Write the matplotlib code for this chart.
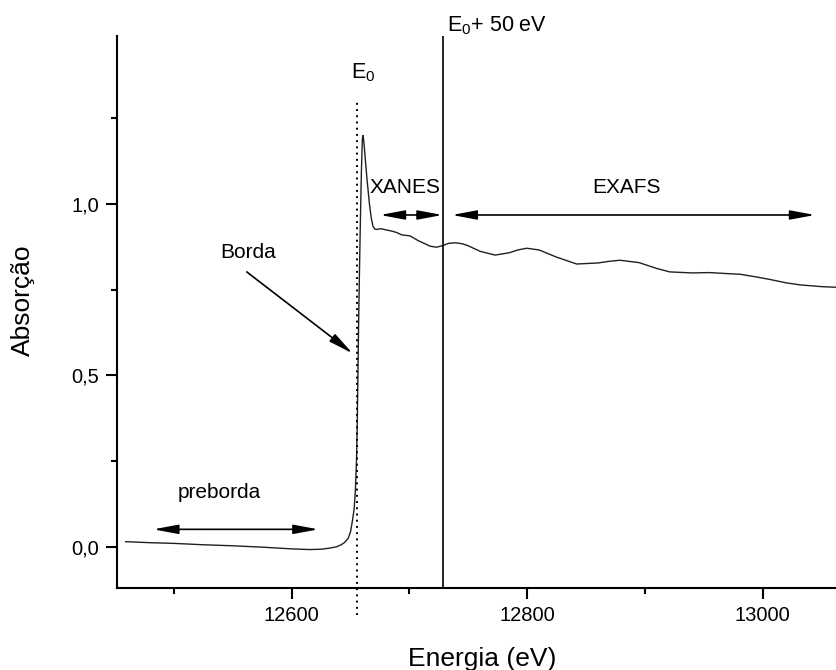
import numpy as np
import matplotlib
matplotlib.use("Agg")
import matplotlib.pyplot as plt
from matplotlib.ticker import MultipleLocator, FuncFormatter

plt.rcParams['font.family'] = 'Liberation Sans'
plt.rcParams['mathtext.fontset'] = 'custom'
plt.rcParams['mathtext.rm'] = 'Liberation Sans'

# XAS spectrum (energy in eV, normalised absorption)
energia = [12459, 12480, 12500, 12525, 12550, 12575, 12600, 12615, 12625,
           12632, 12638, 12642, 12645, 12648, 12650, 12651.5, 12653, 12654,
           12655, 12655.6, 12656.2, 12656.8, 12657.5, 12658.3, 12659.2,
           12660, 12660.6, 12661.3, 12662.5, 12664, 12666, 12667.5, 12669,
           12670.5, 12672, 12676, 12680.6, 12685, 12689, 12693.4, 12700.5,
           12707.5, 12712, 12717.5, 12723, 12728.5, 12733, 12738.7, 12745,
           12750, 12760, 12772.7, 12785, 12792, 12799.6, 12810, 12825, 12842,
           12860, 12870, 12878.8, 12895, 12910, 12921, 12940, 12955, 12970,
           12981, 12995, 13006, 13020, 13032, 13050, 13063]
absorcao = [0.015, 0.012, 0.010, 0.006, 0.003, -0.001, -0.006, -0.008, -0.007,
            -0.004, 0.000, 0.006, 0.013, 0.025, 0.045, 0.075, 0.11, 0.16,
            0.25, 0.35, 0.50, 0.65, 0.80, 0.95, 1.10,
            1.19, 1.20, 1.18, 1.13, 1.07, 1.00, 0.96, 0.935,
            0.927, 0.926, 0.928, 0.924, 0.921, 0.917, 0.910, 0.907,
            0.893, 0.886, 0.877, 0.874, 0.879, 0.885, 0.887, 0.884,
            0.878, 0.862, 0.851, 0.858, 0.866, 0.871, 0.866, 0.845, 0.825,
            0.828, 0.833, 0.836, 0.829, 0.812, 0.802, 0.799, 0.800, 0.797,
            0.795, 0.787, 0.780, 0.770, 0.764, 0.759, 0.757]

e0 = 12655.2        # edge position
e_limite = 12728.7  # XANES / EXAFS boundary

fig = plt.figure(figsize=(8.37, 6.7), dpi=100)
ax = fig.add_axes([117/837, 81.7/670, 720/837, 552.6/670])

ax.plot(energia, absorcao, color='#202020', lw=1.0)

ax.set_xlim(12451.6, 13063.1)
ax.set_ylim(-0.121, 1.491)

# vertical markers
ax.axvline(e_limite, color='black', lw=1.2)
ax.plot([e0, e0], [-0.2, 1.305], color='black', lw=1.4,
        linestyle=(0, (1, 2.2)), clip_on=False)

# ranges
estilo = '<|-|>,head_length=0.75,head_width=0.14'

def seta_dupla(x0, x1, y):
    ax.annotate('', xy=(x1, y), xytext=(x0, y),
                arrowprops=dict(arrowstyle=estilo, color='black', lw=1.2,
                                shrinkA=0, shrinkB=0, mutation_scale=20))

seta_dupla(12482.5, 12622.6, 0.051)
seta_dupla(12675, 12728, 0.968)
seta_dupla(12736, 13044.4, 0.968)

ax.annotate('', xy=(12651.8, 0.564), xytext=(12561.8, 0.802),
            arrowprops=dict(arrowstyle='-|>,head_length=0.75,head_width=0.14',
                            color='black', lw=1.2, shrinkA=0, shrinkB=0,
                            mutation_scale=20))

fs = 15
ax.text(12538.5, 0.142, 'preborda', fontsize=fs, ha='center', va='baseline')
ax.text(12666.5, 1.033, 'XANES', fontsize=fs, ha='left', va='baseline')
ax.text(12884.5, 1.033, 'EXAFS', fontsize=fs, ha='center', va='baseline')
ax.text(12539.1, 0.843, 'Borda', fontsize=fs, ha='left', va='baseline')
ax.text(12650, 1.367, r'$\mathrm{E_0}$', fontsize=15.5, ha='left', va='baseline')
ax.text(12731.6, 1.505, r'$\mathrm{E_0}$+ 50 eV', fontsize=15.5, ha='left',
        va='baseline')

# axes styling
for s in ['top', 'right']:
    ax.spines[s].set_visible(False)
for s in ['left', 'bottom']:
    ax.spines[s].set_linewidth(1.5)

ax.xaxis.set_major_locator(MultipleLocator(200))
ax.xaxis.set_minor_locator(MultipleLocator(100))
ax.yaxis.set_major_locator(MultipleLocator(0.5))
ax.yaxis.set_minor_locator(MultipleLocator(0.25))
ax.yaxis.set_major_formatter(FuncFormatter(lambda v, p: f'{v:.1f}'.replace('.', ',')))
ax.tick_params(which='major', direction='out', length=8, width=1.5,
               labelsize=14.5, pad=5)
ax.tick_params(which='minor', direction='out', length=4.3, width=1.5)

fig.text(482/837, 1 - 665.6/670, 'Energia (eV)', fontsize=19,
         ha='center', va='baseline')
fig.text(23/837, 1 - 300/670, 'Absorção', fontsize=19, rotation=90,
         ha='center', va='center')

fig.savefig('out.png', dpi=100)
